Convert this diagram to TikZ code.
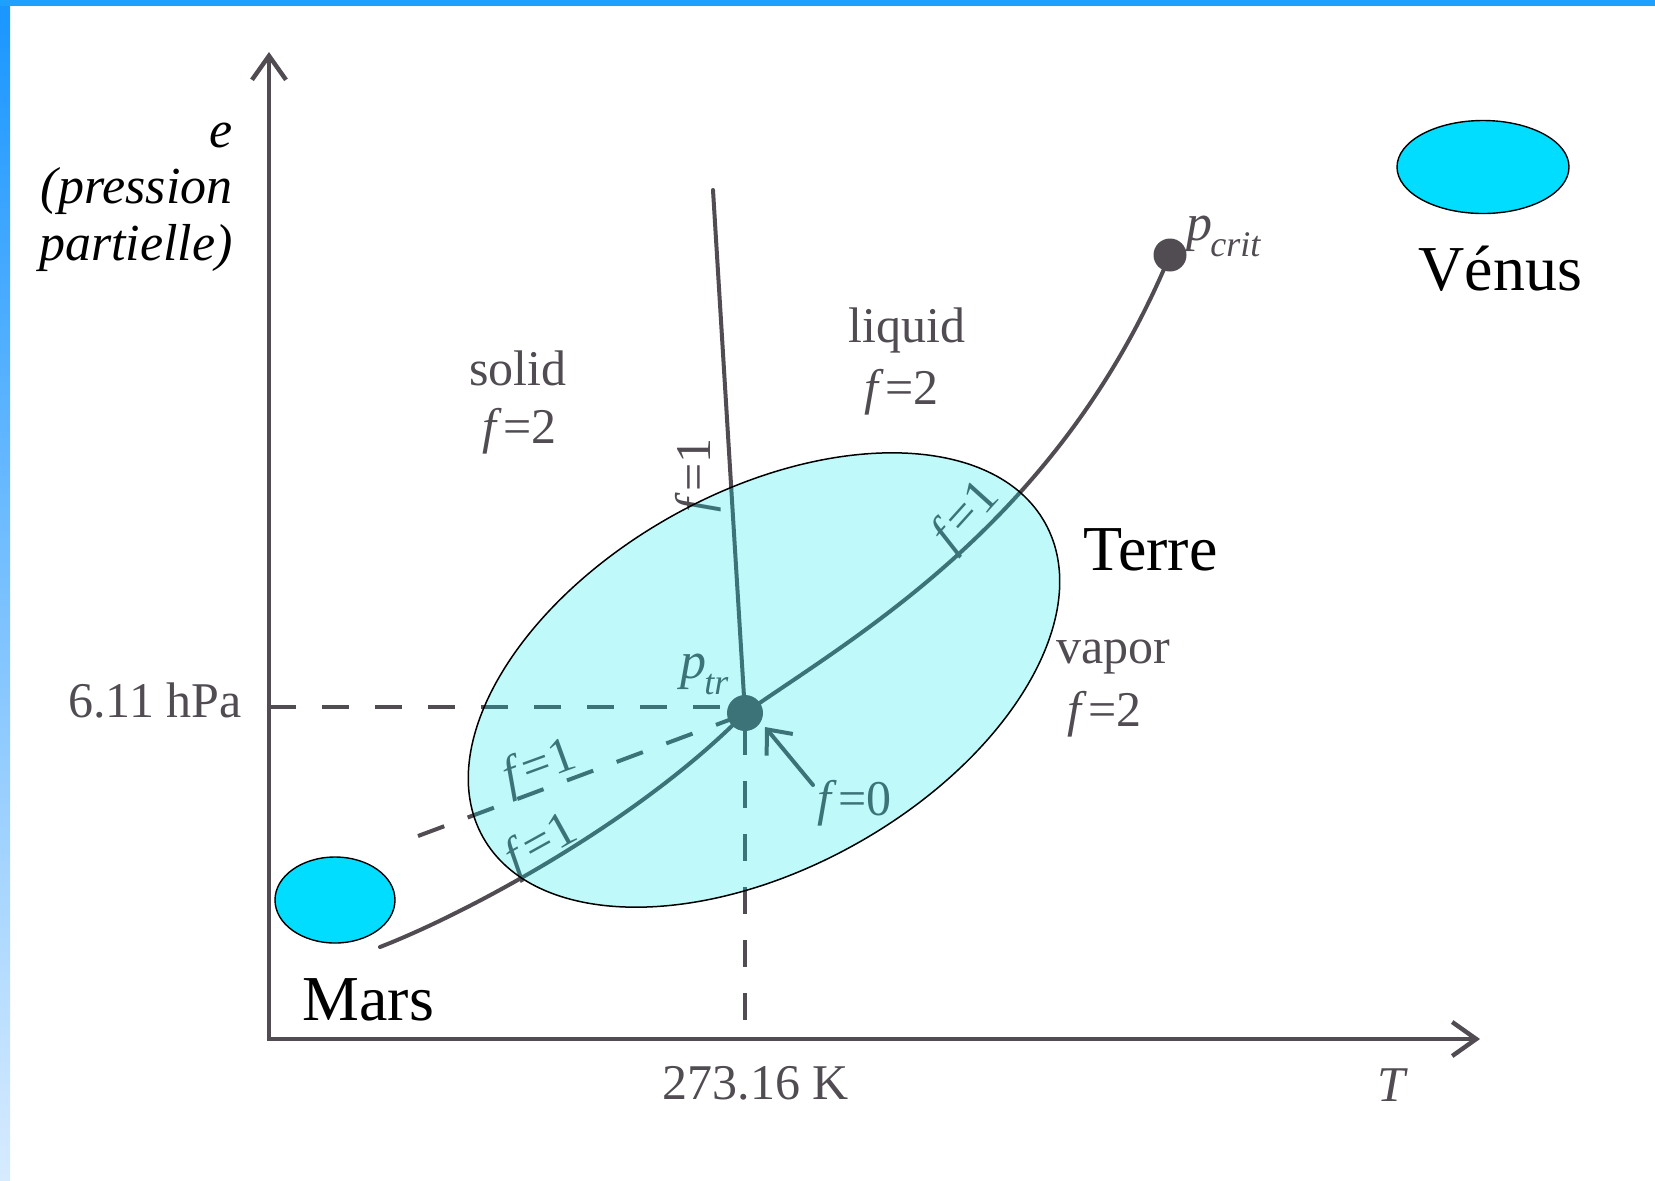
\documentclass[tikz,border=0pt]{standalone}
\usepackage{fontspec}
\setmainfont{Liberation Serif}
\usetikzlibrary{arrows.meta}
\definecolor{bookc}{RGB}{80,76,82}
\definecolor{planetc}{RGB}{0,221,255}
\definecolor{terrec}{RGB}{3,235,235}
\definecolor{frameA}{RGB}{25,150,255}
\definecolor{frameB}{RGB}{215,235,255}
\definecolor{topc}{RGB}{30,160,255}
\newcommand\fql[1]{\textit{f}\kern0.3pt=\kern0.3pt#1}
\newcommand\psub[1]{\textit{p}\kern-1pt\raisebox{-0.32em}{\fontsize{18}{18}\selectfont\itshape #1}}
\begin{document}
\begin{tikzpicture}[x=0.5pt,y=-0.5pt,
  curve/.style={draw=bookc,line width=2pt,line cap=round},
  axisline/.style={draw=bookc,line width=2.2pt,line join=miter},
  guide/.style={draw=bookc,line width=2pt,dash pattern=on 13.5pt off 13pt},
  book/.style={text=bookc,inner sep=0pt,font=\fontsize{25}{29}\selectfont},
  slide/.style={text=black,inner sep=0pt,font=\fontsize{32}{38}\selectfont},
  axlabel/.style={text=black,inner sep=0pt,font=\fontsize{26}{29}\selectfont\itshape},
  planet/.style={draw=black,line width=0.7pt,fill=planetc}
]
\useasboundingbox (0,0) rectangle (1655,1180);
\fill[white] (0,0) rectangle (1655,1180);
\shade[top color=frameA,bottom color=frameB] (0,0) rectangle (10,1180);
\fill[topc] (0,0) rectangle (1655,6);

% coordinates
\coordinate (O) at (269,1039);
\coordinate (ytip) at (269,52);
\coordinate (xtip) at (1480,1039);
\coordinate (ptr) at (745,713);
\coordinate (pcrit) at (1170,255);
\coordinate (mtop) at (713,190);
\coordinate (hstart) at (269,707);
\coordinate (hend) at (724,707);
\coordinate (vstart) at (745,728);
\coordinate (vend) at (745,1021);
\coordinate (sc) at (418,836);
\coordinate (scend) at (737,717);
\coordinate (marsend) at (380,947);
\coordinate (f0tail) at (813,785);
\coordinate (f0tip) at (765,727);

% axes
\draw[axisline,{Straight Barb[length=12pt,width=17pt]}-{Straight Barb[length=12pt,width=17pt]}] (ytip) -- (O) -- (xtip);

% guide lines
\draw[guide] (hstart) -- (hend);
\draw[guide] (vstart) -- (vend);
\draw[draw=bookc,line width=2pt,dash pattern=on 14pt off 12.5pt] (sc) -- (scend);

% phase curves
\draw[curve] (mtop) -- (ptr);
\draw[curve] (marsend) .. controls (470,912) and (640,820) .. (ptr);
\draw[curve] (ptr) .. controls (860,633) and (1060,520) .. (pcrit);
\fill[bookc] (ptr) circle [radius=18];
\fill[bookc] (pcrit) circle [radius=16.5];
\draw[curve,-{Straight Barb[length=10pt,width=17pt]}] (f0tail) -- (f0tip);

% book labels
\node[book,anchor=base east] (hpa) at (242,717) {6.11 hPa};
\node[book] (tk) at (756,1083) {273.16 K};
\node[book] (tax) at (1393,1085) {\textit{T}};
\node[book,anchor=base] (solid) at (518,385) {solid};
\node[book,anchor=base] (solidf) at (520,443) {\fql{2}};
\node[book,anchor=base] (liquid) at (907,342) {liquid};
\node[book,anchor=base] (liquidf) at (902,404) {\fql{2}};
\node[book,anchor=base] (vapor) at (1113,663) {vapor};
\node[book,anchor=base] (vaporf) at (1105,726) {\fql{2}};
\node[book,anchor=base west,font=\fontsize{26}{29}\selectfont] (ptrl) at (680,678) {\psub{tr}};
\node[book,anchor=base west,font=\fontsize{26}{29}\selectfont] (pcritl) at (1186,240) {\psub{crit}};
\node[book,rotate=90] (fmelt) at (698,475) {\fql{1}};
\node[book,rotate=20] (fsc) at (540,768) {\fql{1}};
\node[book,rotate=29] (fsub) at (542,846) {\fql{1}};
\node[book,rotate=48] (fvap) at (967,517) {\fql{1}};
\node[book] (fzero) at (855,803) {\fql{0}};

% axis title
\node[axlabel,anchor=base east] (el) at (233,147) {e};
\node[axlabel,anchor=base east] (el2) at (233,203) {(pression};
\node[axlabel,anchor=base east] (el3) at (233,260) {partielle)};

% Terre ellipse overlay
\draw[black,line width=0.75pt,fill=terrec,fill opacity=0.25,rotate around={29.2:(764,680)}] (764,680) ellipse [x radius=322,y radius=188];

% planets
\draw[planet] (335,900) ellipse [x radius=60,y radius=43];
\draw[planet] (1483,167) ellipse [x radius=86,y radius=46.5];
\node[slide,anchor=base west] (terre) at (1083,570) {Terre};
\node[slide,anchor=base west] (mars) at (302,1020) {Mars};
\node[slide,anchor=base west] (venus) at (1418,290) {Vénus};
\end{tikzpicture}
\end{document}
